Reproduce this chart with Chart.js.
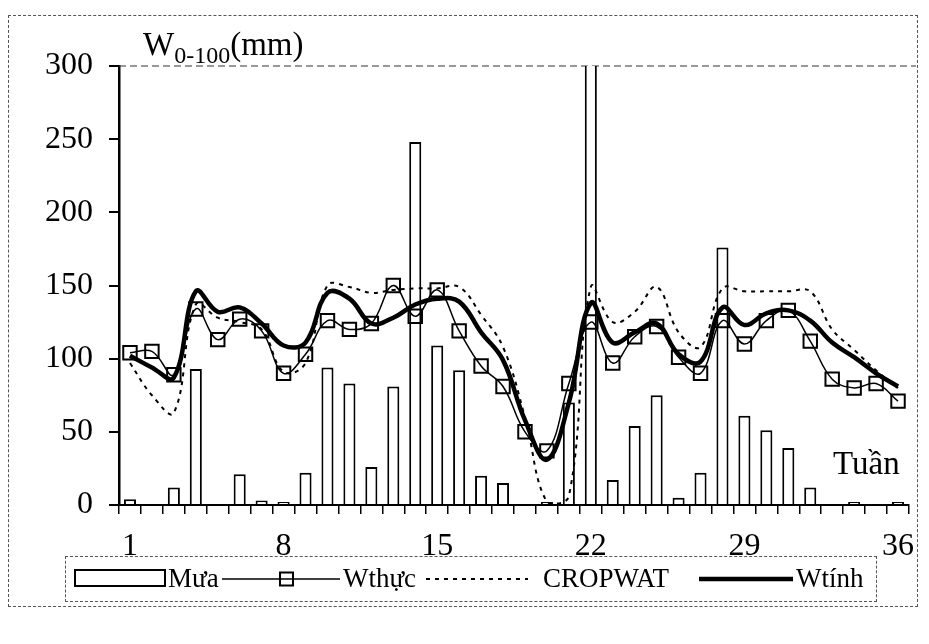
<!DOCTYPE html>
<html>
<head>
<meta charset="utf-8">
<script src="https://cdn.jsdelivr.net/npm/chart.js@4.4.1/dist/chart.umd.min.js"></script>
<style>
  html, body { margin: 0; padding: 0; background: #fff; }
  #wrap { position: relative; width: 929px; height: 644px; overflow: hidden;
          font-family: "Liberation Serif", "Times New Roman", serif; color: #000; }
  #chart { position: absolute; left: 0; top: 0; }
  .abs { position: absolute; white-space: nowrap; }
  .lg { font-size: 27px; line-height: 27px; top: 565px; }
</style>
</head>
<body>
<div id="wrap">
  <div class="abs" style="left:8px;top:15px;width:910px;height:592px;border:1px dashed #555;box-sizing:border-box;"></div>
  <canvas id="chart" width="929" height="644"></canvas>
  <div class="abs" style="left:143px;top:28px;font-size:33px;line-height:33px;">W<span style="font-size:24px;vertical-align:-8px;">0-100</span>(mm)</div>
  <div class="abs" style="left:833px;top:447px;font-size:33px;line-height:33px;">Tuần</div>

  <div class="abs" style="left:65px;top:556px;width:812px;height:46px;border:1px dashed #555;box-sizing:border-box;"></div>
  <svg class="abs" style="left:74px;top:569px;" width="96" height="20"><rect x="1" y="1" width="90" height="16" fill="#fff" stroke="#000" stroke-width="2"/></svg>
  <div class="abs lg" style="left:168px;">Mưa</div>
  <svg class="abs" style="left:220px;top:568px;" width="122" height="22"><line x1="2" y1="11" x2="120" y2="11" stroke="#000" stroke-width="1.5"/><rect x="60" y="4.5" width="13" height="13" fill="none" stroke="#000" stroke-width="2"/></svg>
  <div class="abs lg" style="left:343px;">Wthực</div>
  <svg class="abs" style="left:424px;top:568px;" width="108" height="22"><line x1="2" y1="11" x2="104" y2="11" stroke="#000" stroke-width="2" stroke-dasharray="4 5"/></svg>
  <div class="abs lg" style="left:543px;">CROPWAT</div>
  <svg class="abs" style="left:697px;top:568px;" width="100" height="22"><line x1="2" y1="11" x2="96" y2="11" stroke="#000" stroke-width="4.5"/></svg>
  <div class="abs lg" style="left:796px;">Wtính</div>
</div>
<script>
// ---- data ----
const weeks = ['1','2','3','4','5','6','7','8','9','10','11','12','13','14','15','16','17','18',
               '19','20','21','22','23','24','25','26','27','28','29','30','31','32','33','34','35','36'];
const xTickLabels = ['1','8','15','22','29','36'];
const yMin = 0, yMax = 300, yStep = 50;

const mua     = [4,0,12,93,0,21,3,2,22,94,83,26,81,248,109,92,20,15,0,2,70,330,17,54,75,5,22,176,61,51,39,12,0,2,0,2];
const wthuc   = [104,105,89,134,113,127,119,90,103,126,120,124,150,129,147,119,95,81,50,37,83,125,97,115,122,101,90,126,110,126,133,112,86,80,83,71];
const cropwat = [97,75,63,137,128,125,120,91,97,150,149,145,147,148,148,149,130,108,60,2,6,149,125,132,149,118,108,148,146,146,146,146,120,106,92,80];
const wtinh   = [102,94,87,146,132,135,124,109,111,145,141,124,128,137,141,139,118,99,58,31,70,138,111,118,124,103,98,135,123,131,133,126,111,101,90,81];

const FONT = "'Liberation Serif', 'Times New Roman', serif";

const topLine = {
  id: 'topLine',
  beforeDatasetsDraw(chart) {
    const ctx = chart.ctx;
    const y = chart.scales.y.getPixelForValue(yMax);
    ctx.save();
    ctx.strokeStyle = '#333';
    ctx.lineWidth = 1.2;
    ctx.setLineDash([7, 4]);
    ctx.beginPath();
    ctx.moveTo(chart.chartArea.left, y);
    ctx.lineTo(916, y);
    ctx.stroke();
    ctx.restore();
  }
};

new Chart(document.getElementById('chart'), {
  data: {
    labels: weeks,
    datasets: [
      { type: 'line', label: 'Wthực', data: wthuc, order: 1,
        borderColor: '#000', borderWidth: 1.5, tension: 0.4,
        pointStyle: 'rect', pointRadius: 9.5, pointBorderWidth: 2,
        pointBorderColor: '#000', pointBackgroundColor: 'rgba(255,255,255,0)' },
      { type: 'line', label: 'Wtính', data: wtinh, order: 2,
        borderColor: '#000', borderWidth: 4.5, tension: 0.4, pointRadius: 0 },
      { type: 'line', label: 'CROPWAT', data: cropwat, order: 3,
        borderColor: '#000', borderWidth: 2, borderDash: [4, 5], tension: 0.4, pointRadius: 0 },
      { type: 'bar', label: 'Mưa', data: mua, order: 10,
        backgroundColor: '#fff', borderColor: '#000', borderWidth: 2,
        barPercentage: 0.55, categoryPercentage: 1.0 }
    ]
  },
  options: {
    responsive: false,
    animation: false,
    devicePixelRatio: 1,
    layout: { padding: { left: 0, right: 20, top: 66, bottom: 0 } },
    plugins: { legend: { display: false }, tooltip: { enabled: false } },
    scales: {
      x: {
        type: 'category',
        offset: true,
        afterFit: s => { s.height = 139; },
        border: { display: true, color: '#000', width: 2 },
        grid: { display: true, drawOnChartArea: false, drawTicks: true, tickLength: 9,
                color: '#000', lineWidth: 1.5, offset: true },
        ticks: {
          autoSkip: false, maxRotation: 0, minRotation: 0, padding: 13,
          color: '#000', font: { family: FONT, size: 32 },
          callback: function (v, i) { const l = weeks[i]; return xTickLabels.includes(l) ? l : ''; }
        }
      },
      y: {
        min: yMin, max: yMax,
        afterFit: s => { s.width = 119; },
        border: { display: true, color: '#000', width: 2.5 },
        grid: { display: true, drawOnChartArea: false, drawTicks: true, tickLength: 10,
                color: '#000', lineWidth: 2 },
        ticks: { stepSize: yStep, padding: 16, color: '#000', font: { family: FONT, size: 32 } }
      }
    }
  },
  plugins: [topLine]
});
</script>
</body>
</html>
